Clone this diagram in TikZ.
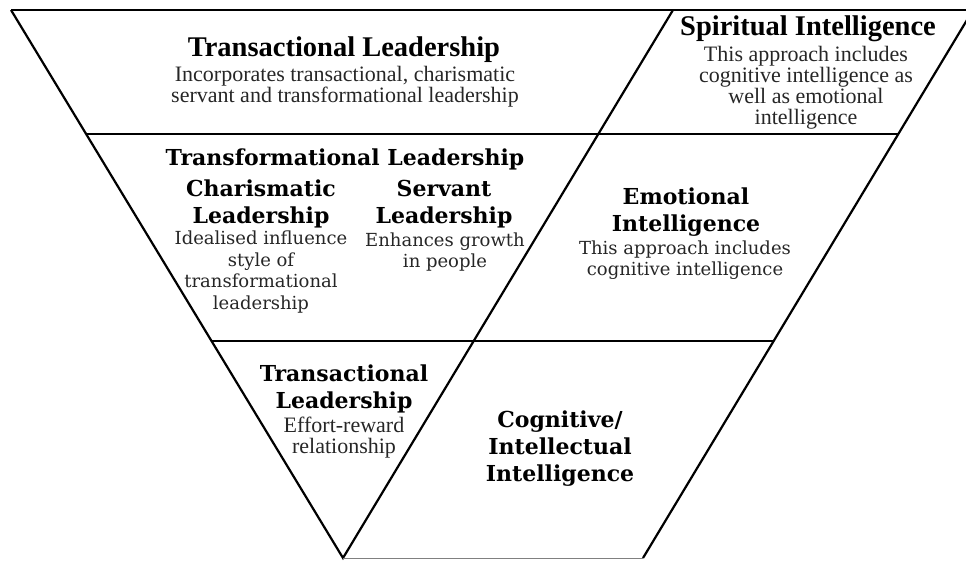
\documentclass[tikz,border=0pt]{standalone}
\usepackage{fontspec}
\setmainfont{Liberation Serif}
\newfontfamily\wideserif{DejaVu Serif}
\usetikzlibrary{positioning}

\begin{document}
\begin{tikzpicture}[x=1pt, y=-1pt,
		thinhead/.style={font=\fontsize{28.5}{30}\selectfont\bfseries, align=center},
		thinbody/.style={font=\fontsize{22}{21}\selectfont, align=center, text=black!85},
		widehead/.style={font=\wideserif\fontsize{22}{27}\selectfont\bfseries, align=center},
		widebody/.style={font=\wideserif\fontsize{18}{21.5}\selectfont, align=center, text=black!85},
		edge/.style={line width=2.2pt}]
		\clip (0,0) rectangle (966,562);
		%corners of the funnel
		\coordinate (tl) at (11,10);
		\coordinate (tr) at (973,10);
		\coordinate (mid) at (673,10);
		\coordinate (apex) at (343,558);
		\coordinate (br) at (643,558);
		\coordinate (l1) at (86,134);
		\coordinate (r1) at (898,134);
		\coordinate (l2) at (211,341);
		\coordinate (r2) at (774,341);
		\draw[edge] (tl) -- (tr);
		\draw[edge] (tl) -- (apex) -- (mid);
		\draw[edge] (br) -- (tr);
		\draw[edge] (l1) -- (r1);
		\draw[edge] (l2) -- (r2);
		\draw[gray, line width=1pt] (apex) -- (br);
		%top band
		\node[thinhead] (tlhead) at (344,50) {Transactional Leadership};
		\node[thinbody] (tlbody) at (345,87) {Incorporates transactional, charismatic\\servant and transformational leadership};
		\node[thinhead] (sihead) at (808,29) {Spiritual Intelligence};
		\node[thinbody] (sibody) at (806,88) {This approach includes\\cognitive intelligence as\\well as emotional\\intelligence};
		%middle band
		\node[widehead] (tfhead) at (345,159) {Transformational Leadership};
		\node[widehead] (chhead) at (261,204) {Charismatic\\Leadership};
		\node[widebody] (chbody) at (261,272) {Idealised influence\\style of\\transformational\\leadership};
		\node[widehead] (svhead) at (444,204) {Servant\\Leadership};
		\node[widebody] (svbody) at (445,252) {Enhances growth\\in people};
		\node[widehead] (emhead) at (686,212) {Emotional\\Intelligence};
		\node[widebody] (embody) at (685,260) {This approach includes\\cognitive intelligence};
		%bottom band
		\node[widehead] (trhead) at (344,389) {Transactional\\Leadership};
		\node[thinbody] (trbody) at (344,438) {Effort-reward\\relationship};
		\node[widehead] (cghead) at (560,449) {Cognitive/\\Intellectual\\Intelligence};
	\end{tikzpicture}
\end{document}
